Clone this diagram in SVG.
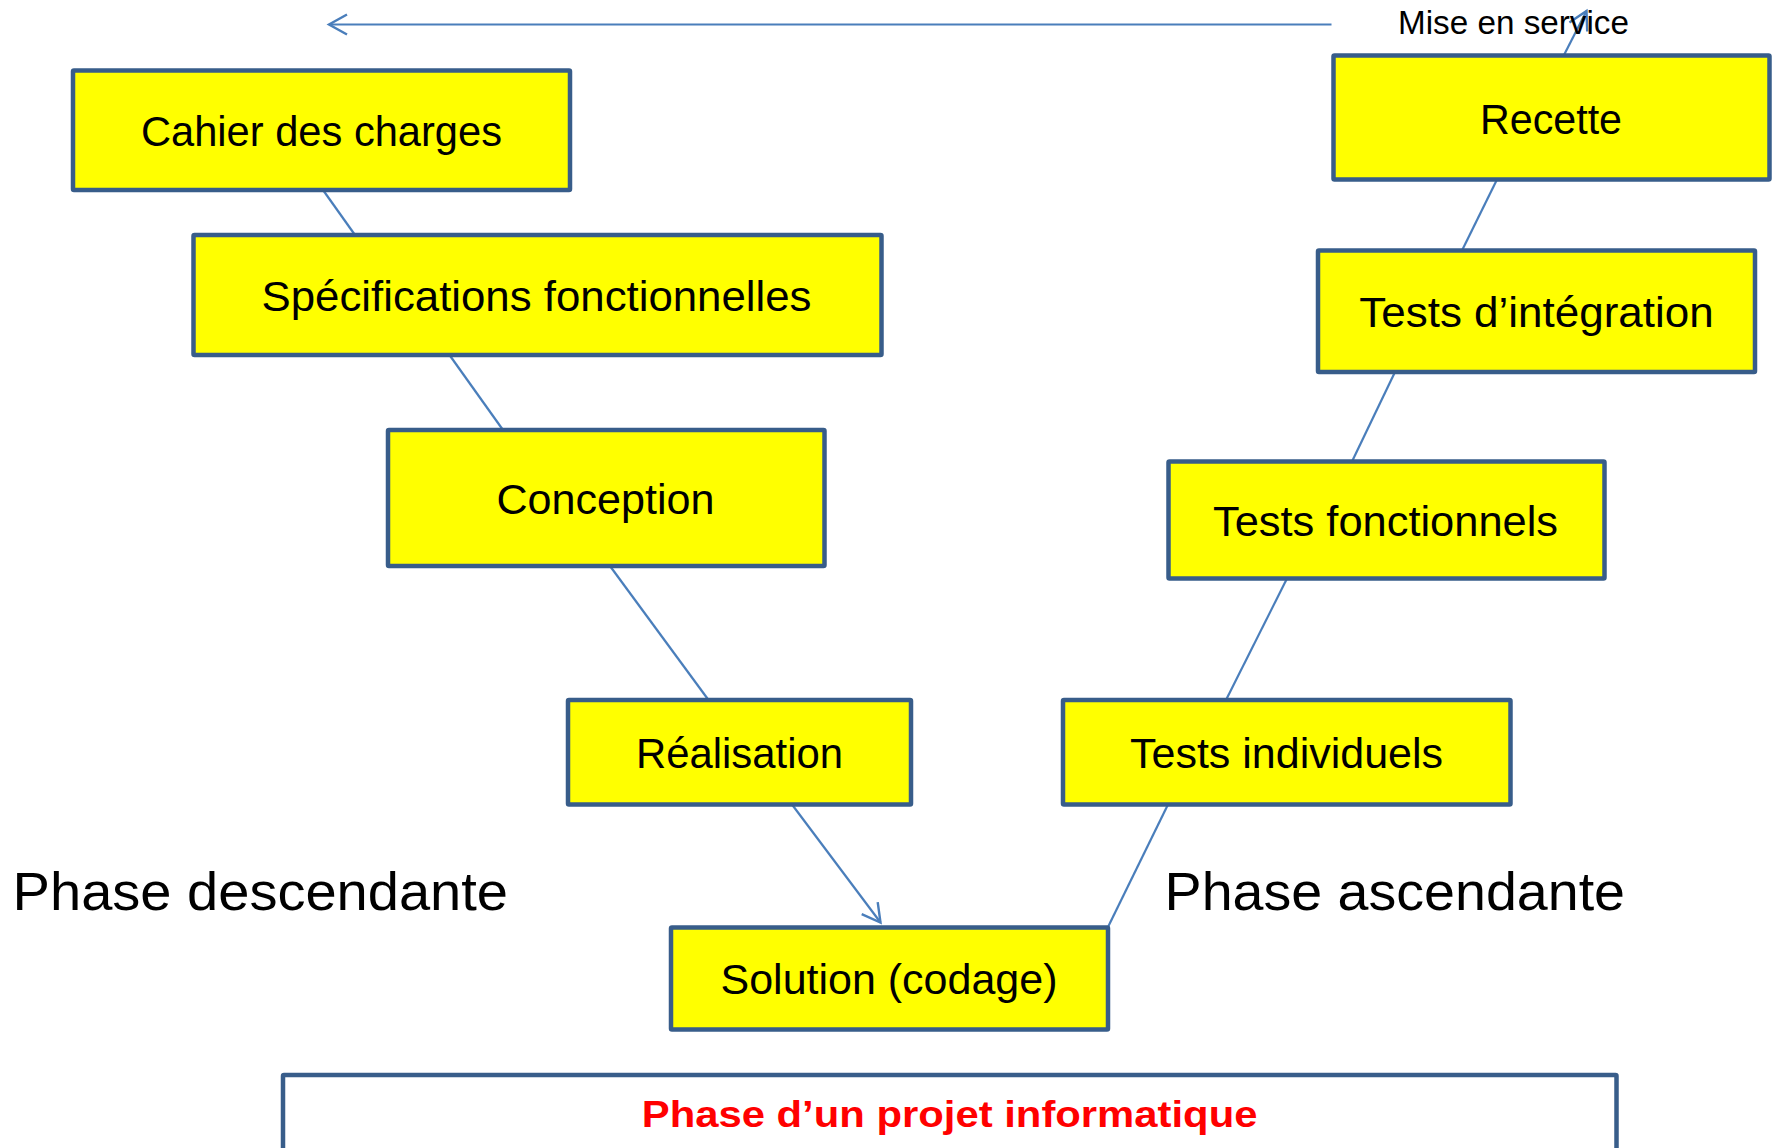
<svg xmlns="http://www.w3.org/2000/svg" width="1783" height="1148" viewBox="0 0 1783 1148">
  <style>
    .box { fill: #FFFF00; stroke: #385D8A; stroke-width: 4.5; }
    .frame { fill: #FFFFFF; stroke: #385D8A; stroke-width: 4.5; }
    .lbl { font-family: "Liberation Sans", Arial, sans-serif; font-size: 43px; fill: #000000; text-anchor: middle; }
    .phase { font-family: "Liberation Sans", Arial, sans-serif; font-size: 54px; fill: #000000; }
    .small { font-family: "Liberation Sans", Arial, sans-serif; font-size: 32.5px; fill: #000000; }
    .title { font-family: "Liberation Sans", Arial, sans-serif; font-size: 37px; font-weight: bold; fill: #FF0000; text-anchor: middle; }
    .conn { stroke: #4A7EBB; stroke-width: 2.2; fill: none; }
  </style>
  <defs>
    <marker id="arrow" markerUnits="userSpaceOnUse" viewBox="0 0 18 20" refX="18" refY="10" markerWidth="18" markerHeight="20" orient="auto" overflow="visible">
      <path d="M0,0 L18,10 L0,20" fill="none" stroke="#4A7EBB" stroke-width="2.4" stroke-linejoin="miter"/>
    </marker>
  </defs>
  <rect width="1783" height="1148" fill="#FFFFFF"/>

  <g id="connectors">
    <line class="conn" x1="1331.5" y1="24.5" x2="329" y2="24.5" marker-end="url(#arrow)"/>
    <line class="conn" x1="323" y1="190" x2="355" y2="235"/>
    <line class="conn" x1="449.5" y1="355" x2="503" y2="430"/>
    <line class="conn" x1="610" y1="566" x2="708.5" y2="700"/>
    <line class="conn" x1="792" y1="804.5" x2="880.5" y2="922.5" marker-end="url(#arrow)"/>
    <line class="conn" x1="1108" y1="927" x2="1168" y2="804.5"/>
    <line class="conn" x1="1226" y1="700" x2="1287" y2="578.5"/>
    <line class="conn" x1="1352" y1="461.5" x2="1395" y2="372"/>
    <line class="conn" x1="1462" y1="250.5" x2="1497" y2="179.5"/>
    <line class="conn" x1="1564" y1="55" x2="1586.5" y2="11" marker-end="url(#arrow)"/>
  </g>

  <g id="node-cahier">
    <rect class="box" x="73" y="70.5" width="497" height="119.5" rx="1"/>
    <text class="lbl" x="321.5" y="145.5" textLength="361" lengthAdjust="spacingAndGlyphs">Cahier des charges</text>
  </g>
  <g id="node-specifications">
    <rect class="box" x="193.5" y="235" width="688" height="120" rx="1"/>
    <text class="lbl" x="536.5" y="310.5" textLength="550" lengthAdjust="spacingAndGlyphs">Spécifications fonctionnelles</text>
  </g>
  <g id="node-conception">
    <rect class="box" x="388" y="430" width="436.5" height="136" rx="1"/>
    <text class="lbl" x="605.5" y="513.5" textLength="218" lengthAdjust="spacingAndGlyphs">Conception</text>
  </g>
  <g id="node-realisation">
    <rect class="box" x="568" y="700" width="343" height="104.5" rx="1"/>
    <text class="lbl" x="739.5" y="767.5" textLength="207" lengthAdjust="spacingAndGlyphs">Réalisation</text>
  </g>
  <g id="node-solution">
    <rect class="box" x="671" y="927.5" width="437" height="102" rx="1"/>
    <text class="lbl" x="889" y="993.5" textLength="337" lengthAdjust="spacingAndGlyphs">Solution (codage)</text>
  </g>
  <g id="node-tests-individuels">
    <rect class="box" x="1063" y="700" width="447.5" height="104.5" rx="1"/>
    <text class="lbl" x="1286.5" y="767.5" textLength="313" lengthAdjust="spacingAndGlyphs">Tests individuels</text>
  </g>
  <g id="node-tests-fonctionnels">
    <rect class="box" x="1168.5" y="461.5" width="436" height="117" rx="1"/>
    <text class="lbl" x="1385.5" y="535.5" textLength="345" lengthAdjust="spacingAndGlyphs">Tests fonctionnels</text>
  </g>
  <g id="node-tests-integration">
    <rect class="box" x="1318" y="250.5" width="437" height="121.5" rx="1"/>
    <text class="lbl" x="1536.5" y="327" textLength="354.5" lengthAdjust="spacingAndGlyphs">Tests d’intégration</text>
  </g>
  <g id="node-recette">
    <rect class="box" x="1333.5" y="55.5" width="436" height="124" rx="1"/>
    <text class="lbl" x="1551" y="133.5" textLength="142" lengthAdjust="spacingAndGlyphs">Recette</text>
  </g>

  <g id="label-mise-en-service">
    <text class="small" x="1398" y="34.3" textLength="231" lengthAdjust="spacingAndGlyphs">Mise en service</text>
  </g>
  <g id="label-phase-descendante">
    <text class="phase" x="12.6" y="910" textLength="495.4" lengthAdjust="spacingAndGlyphs">Phase descendante</text>
  </g>
  <g id="label-phase-ascendante">
    <text class="phase" x="1164.6" y="910" textLength="460.4" lengthAdjust="spacingAndGlyphs">Phase ascendante</text>
  </g>

  <g id="node-title">
    <rect class="frame" x="283" y="1075" width="1333.5" height="120" rx="1"/>
    <text class="title" x="949.6" y="1126.7" textLength="615.7" lengthAdjust="spacingAndGlyphs">Phase d’un projet informatique</text>
  </g>
</svg>
